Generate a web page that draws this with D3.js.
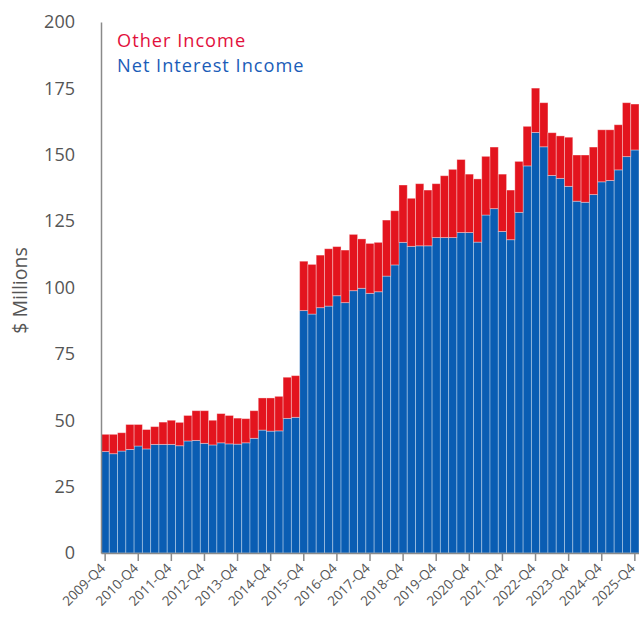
<!DOCTYPE html>
<html>
<head>
<meta charset="utf-8">
<script src="https://cdn.jsdelivr.net/npm/d3@7"></script>
<style>
  html, body { margin: 0; padding: 0; background: #fff; }
  svg { display: block; }
  text { font-family: "Open Sans", "Lato", sans-serif; }
</style>
</head>
<body>
<svg id="chart" width="639" height="624"></svg>
<script>
// Quarterly income, 2009-Q4 through 2025-Q4 ($ millions)
const years = d3.range(2009, 2026);
const quarters = [];
years.forEach(y => {
  ["Q1", "Q2", "Q3", "Q4"].forEach(q => {
    if (y === 2009 && q !== "Q4") return;
    quarters.push(y + "-" + q);
  });
});

const netInterestIncome = [
  38.2, 37.4, 38.4, 39.0, 40.3, 39.2, 40.9, 40.9, 40.9, 40.4,
  42.2, 42.4, 41.3, 40.7, 41.5, 41.1, 41.0, 41.5, 43.2, 46.3,
  45.9, 46.0, 50.7, 51.1, 91.3, 90.0, 92.4, 93.0, 96.9, 94.3,
  98.8, 99.7, 97.8, 98.4, 104.3, 108.5, 117.0, 115.5, 115.7, 115.7,
  118.8, 118.8, 118.8, 120.7, 120.7, 117.1, 127.3, 129.7, 121.1, 118.0,
  128.3, 145.8, 158.4, 153.0, 142.2, 141.1, 138.1, 132.5, 132.1, 135.0,
  139.8, 140.3, 144.3, 149.3, 151.8
];

const otherIncome = [
  6.5, 7.3, 6.9, 9.4, 8.1, 7.3, 6.7, 8.4, 9.1, 8.8,
  9.6, 11.2, 12.3, 9.3, 11.0, 10.7, 9.8, 9.1, 10.4, 12.1,
  12.5, 13.0, 15.5, 15.7, 18.6, 18.7, 19.8, 21.6, 18.5, 19.8,
  21.2, 18.6, 18.8, 18.6, 21.1, 20.4, 21.6, 18.1, 23.4, 21.0,
  20.3, 23.3, 25.7, 27.5, 22.0, 23.8, 22.1, 23.2, 21.6, 18.7,
  19.2, 14.9, 16.7, 16.6, 16.1, 16.0, 18.5, 17.4, 17.8, 17.9,
  19.6, 19.1, 17.0, 20.3, 17.3
];

const yTicks = [0, 25, 50, 75, 100, 125, 150, 175, 200];
const xTickLabels = quarters.filter(q => q.endsWith("Q4"));

const seriesNames = ["Net Interest Income", "Other Income"];
const seriesColors = { "Net Interest Income": "#0a5db3", "Other Income": "#e3141e" };
const legendColors = { "Net Interest Income": "#1a5cb8", "Other Income": "#e2103c" };

const rows = quarters.map((q, i) => ({
  quarter: q,
  "Net Interest Income": netInterestIncome[i],
  "Other Income": otherIncome[i]
}));

const svg = d3.select("#chart");
const margin = { top: 22, right: 0, bottom: 70, left: 101 };
const W = 639, H = 624;

const x = d3.scaleBand()
  .domain(quarters)
  .range([margin.left, W - margin.right])
  .paddingInner(0)
  .paddingOuter(0);

const y = d3.scaleLinear()
  .domain([0, 200])
  .range([H - margin.bottom - 1, margin.top]);

const stacked = d3.stack().keys(seriesNames)(rows);

// Stacked bars
svg.append("g")
  .selectAll("g")
  .data(stacked)
  .join("g")
  .attr("fill", d => seriesColors[d.key])
  .selectAll("rect")
  .data(d => d)
  .join("rect")
  .attr("x", d => x(d.data.quarter))
  .attr("width", x.bandwidth())
  .attr("y", d => y(d[1]))
  .attr("height", d => y(d[0]) - y(d[1]))
  .attr("stroke", "rgba(255,255,255,0.38)")
  .attr("stroke-width", 0.9);

// Y axis
const yAxis = svg.append("g")
  .attr("transform", `translate(${margin.left},0)`)
  .call(d3.axisLeft(y).tickValues(yTicks).tickSize(0).tickPadding(26));
yAxis.select(".domain").attr("stroke", "#8a8a8a").attr("stroke-width", 1.5);
yAxis.selectAll("text")
  .attr("fill", "#555")
  .style("font-size", "18px");

// X axis
const xAxis = svg.append("g")
  .attr("transform", `translate(0,${y(0)})`)
  .call(d3.axisBottom(x).tickValues(xTickLabels).tickSize(8).tickSizeOuter(0));
xAxis.select(".domain").attr("stroke", "#8a8a8a").attr("stroke-width", 1.5);
xAxis.selectAll(".tick line").attr("stroke", "#8a8a8a").attr("stroke-width", 1.5);
xAxis.selectAll("text")
  .attr("fill", "#555")
  .style("font-size", "13.5px")
  .attr("text-anchor", "end")
  .attr("x", 0)
  .attr("y", 0)
  .attr("dx", "0")
  .attr("dy", "0")
  .attr("transform", "translate(1,16) rotate(-45)");

// Y axis title
svg.append("text")
  .attr("transform", `translate(27,${(y(0) + y(200)) / 2 + 3}) rotate(-90)`)
  .attr("text-anchor", "middle")
  .attr("fill", "#555")
  .style("font-size", "19.5px")
  .text("$ Millions");

// Legend
const legend = svg.append("g");
["Other Income", "Net Interest Income"].forEach((name, i) => {
  legend.append("text")
    .attr("x", 117)
    .attr("y", 47 + i * 25)
    .attr("fill", legendColors[name])
    .style("font-size", "18.2px")
    .style("letter-spacing", "1px")
    .text(name);
});
</script>
</body>
</html>
